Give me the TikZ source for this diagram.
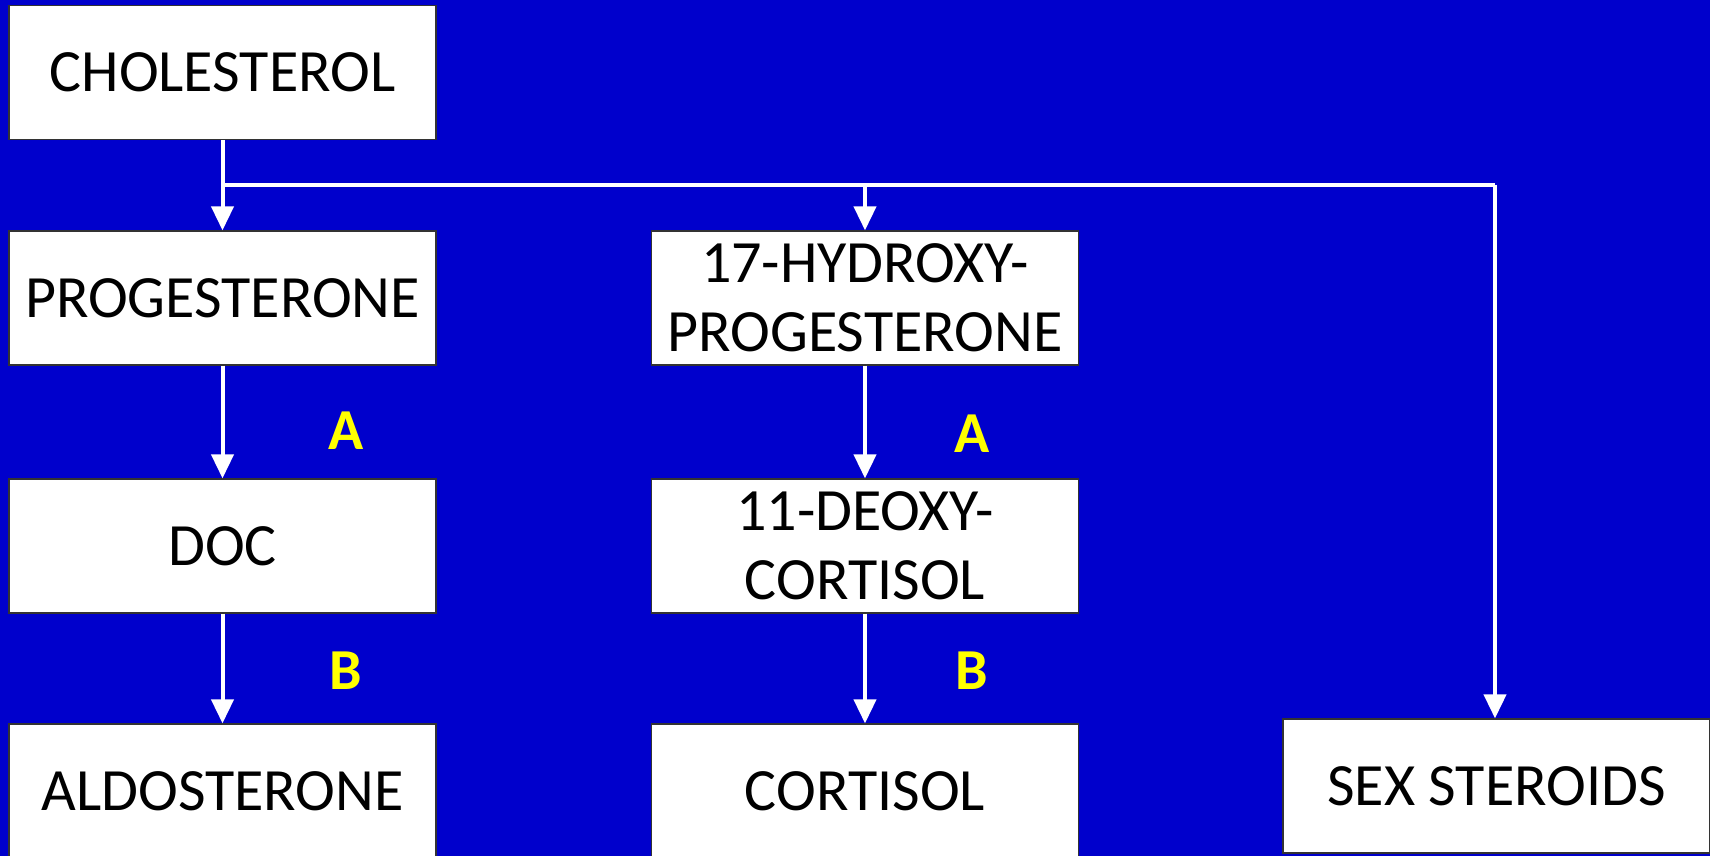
\documentclass[tikz,border=0pt]{standalone}
\usepackage{fontspec}
\setmainfont{Carlito}
\usetikzlibrary{arrows.meta}
\definecolor{slideblue}{RGB}{0,0,204}
\definecolor{labelyellow}{RGB}{255,255,0}
\begin{document}
\begin{tikzpicture}[x=1pt,y=-1pt,
  boxnode/.style={draw=black!80, line width=1.2pt, fill=white, rectangle,
    minimum width=427pt, minimum height=134pt, inner sep=0pt, align=center,
    font=\fontsize{60}{69}\selectfont},
  enzyme/.style={text=labelyellow, font=\fontsize{58}{66}\selectfont\bfseries},
  link/.style={draw=white, line width=4pt},
  arr/.style={link, -{Triangle[width=22pt,length=24pt]}}]
  % background
  \fill[slideblue] (0,0) rectangle (1710,856);
  \useasboundingbox (0,0) rectangle (1710,856);

  % metabolites
  \node[boxnode] (chol)  at (222.5,72.5) {CHOLESTEROL};
  \node[boxnode] (prog)  at (222.5,298)  {PROGESTERONE};
  \node[boxnode] (hyd)   at (865,298)    {17-HYDROXY-\\PROGESTERONE};
  \node[boxnode] (doc)   at (222.5,546)  {DOC};
  \node[boxnode] (deoxy) at (865,546)    {11-DEOXY-\\CORTISOL};
  \node[boxnode] (aldo)  at (222.5,791)  {ALDOSTERONE};
  \node[boxnode] (cort)  at (865,791)    {CORTISOL};
  \node[boxnode] (sex)   at (1496.5,786) {SEX STEROIDS};

  % branch points on the distribution line
  \coordinate (split) at (222.5,185);
  \coordinate (midtap) at (hyd.north |- split);
  \coordinate (corner) at (1495,185);

  % pathway arrows
  \draw[arr] (chol.south) -- (prog.north);
  \draw[link] (split) -- (corner);
  \draw[arr] (corner) -- (corner |- sex.north);
  \draw[arr] (midtap) -- (hyd.north);
  \draw[arr] (prog.south) -- (doc.north);
  \draw[arr] (doc.south) -- (aldo.north);
  \draw[arr] (hyd.south) -- (deoxy.north);
  \draw[arr] (deoxy.south) -- (cort.north);

  % enzyme labels
  \node[enzyme] (a1) at (346,431) {A};
  \node[enzyme] (b1) at (346,671) {B};
  \node[enzyme] (a2) at (972,434) {A};
  \node[enzyme] (b2) at (972,671) {B};
\end{tikzpicture}
\end{document}
